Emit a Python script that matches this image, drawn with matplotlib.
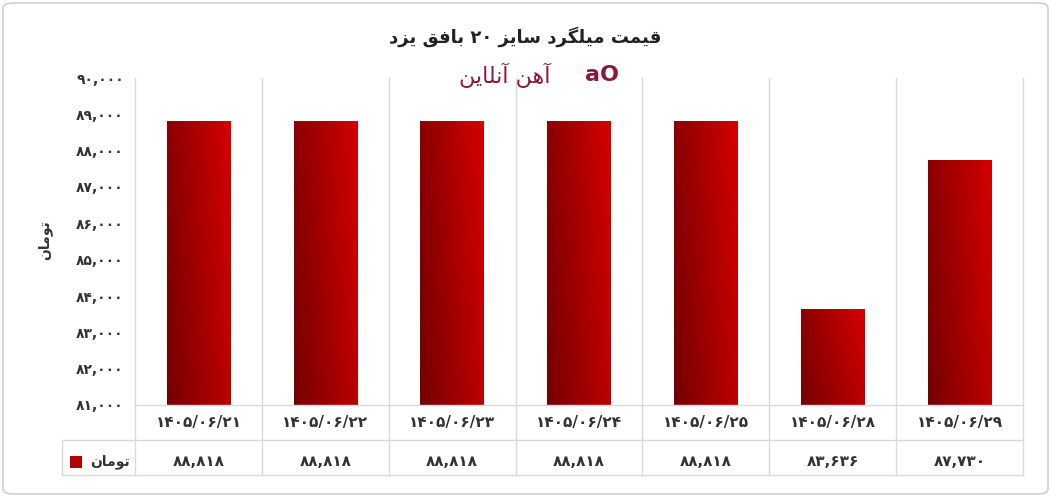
import matplotlib
matplotlib.use("Agg")
import matplotlib.pyplot as plt
import numpy as np
import re
from matplotlib.patches import FancyBboxPatch, Rectangle
from matplotlib.colors import LinearSegmentedColormap

plt.rcParams['font.family'] = ['DejaVu Sans', 'Noto Sans']

categories = ["۱۴۰۵/۰۶/۲۱", "۱۴۰۵/۰۶/۲۲", "۱۴۰۵/۰۶/۲۳", "۱۴۰۵/۰۶/۲۴",
              "۱۴۰۵/۰۶/۲۵", "۱۴۰۵/۰۶/۲۸", "۱۴۰۵/۰۶/۲۹"]
values = [88818, 88818, 88818, 88818, 88818, 83636, 87730]
yticks = [81000, 82000, 83000, 84000, 85000, 86000, 87000, 88000, 89000, 90000]
title = "قیمت میلگرد سایز ۲۰ بافق یزد"
series_name = "تومان"
logo = "آهن آنلاین"

FA = str.maketrans("0123456789", "۰۱۲۳۴۵۶۷۸۹")
def fa_num(v):
    return f"{v:,}".translate(FA)

FORMS = {
    'ا': (0xFE8D, 0xFE8E, None, None), 'آ': (0xFE81, 0xFE82, None, None),
    'ب': (0xFE8F, 0xFE90, 0xFE91, 0xFE92), 'ت': (0xFE95, 0xFE96, 0xFE97, 0xFE98),
    'د': (0xFEA9, 0xFEAA, None, None), 'ر': (0xFEAD, 0xFEAE, None, None),
    'ز': (0xFEAF, 0xFEB0, None, None), 'س': (0xFEB1, 0xFEB2, 0xFEB3, 0xFEB4),
    'ف': (0xFED1, 0xFED2, 0xFED3, 0xFED4), 'ق': (0xFED5, 0xFED6, 0xFED7, 0xFED8),
    'ل': (0xFEDD, 0xFEDE, 0xFEDF, 0xFEE0), 'م': (0xFEE1, 0xFEE2, 0xFEE3, 0xFEE4),
    'ن': (0xFEE5, 0xFEE6, 0xFEE7, 0xFEE8), 'ه': (0xFEE9, 0xFEEA, 0xFEEB, 0xFEEC),
    'و': (0xFEED, 0xFEEE, None, None), 'ی': (0xFBFC, 0xFBFD, 0xFBFE, 0xFBFF),
    'گ': (0xFB92, 0xFB93, 0xFB94, 0xFB95),
}
def dual(c):
    return c in FORMS and FORMS[c][2] is not None

def shape(s):
    out = []
    for i, c in enumerate(s):
        if c not in FORMS:
            out.append(c); continue
        prev = s[i-1] if i > 0 else ''
        nxt = s[i+1] if i+1 < len(s) else ''
        jp = dual(prev)
        jn = dual(c) and nxt in FORMS
        f = FORMS[c]
        if jp and jn: cp = f[3]
        elif jp: cp = f[1]
        elif jn: cp = f[2]
        else: cp = f[0]
        out.append(chr(cp))
    tokens = re.findall(r'[0-9۰-۹,/]+|.', ''.join(out))
    return ''.join(reversed(tokens))

W, H = 1051, 497
fig = plt.figure(figsize=(W/100, H/100), dpi=100)
fig.patches.append(FancyBboxPatch((3/W, 3/H), 1-6/W, 1-6/H, boxstyle="round,pad=0,rounding_size=0.01",
                                  transform=fig.transFigure, fc='white', ec='#c8c8c8', lw=1, zorder=-10))

L, R, T, B = 135, 1023, 78, 405
ax = fig.add_axes([L/W, 1-B/H, (R-L)/W, (B-T)/H])
ax.patch.set_alpha(0)
for s in ax.spines.values(): s.set_visible(False)
ax.set_xticks([])
ax.set_yticks(yticks)
ax.set_yticklabels([fa_num(v) for v in yticks], fontsize=10, fontweight='bold', color='#333333')
ax.tick_params(axis='y', length=0, pad=8)

cmap = LinearSegmentedColormap.from_list('g', ['#740000', '#d40000'])
bars = ax.bar(range(len(values)), [v-81000 for v in values], bottom=81000, width=0.5, color='none')
for b in bars:
    x0, y0, w, h = b.get_x(), b.get_y(), b.get_width(), b.get_height()
    gx, gy = np.meshgrid(np.linspace(0, 1, 64), np.linspace(1, 0, 64))
    g = 0.75*gx + 0.25*gy
    im = ax.imshow(g, extent=[x0, x0+w, y0, y0+h], cmap=cmap, aspect='auto', zorder=2)
    im.set_clip_path(b)
ax.set_xlim(-0.5, len(values)-0.5)
ax.set_ylim(81000, 90000)

lc = '#d9d9d9'
for i in range(len(values)+1):
    x = (L + (R-L)*i/len(values))/W
    fig.add_artist(plt.Line2D([x, x], [1-T/H, 1-475/H], color=lc, lw=1, zorder=0))
x62 = 62/W
for y in [B, 440, 475]:
    fig.add_artist(plt.Line2D([x62 if y != B else L/W, R/W], [1-y/H]*2, color=lc, lw=1))
fig.add_artist(plt.Line2D([x62, x62], [1-440/H, 1-475/H], color=lc, lw=1))

for i, (c, v) in enumerate(zip(categories, values)):
    xc = (L + (R-L)*(i+0.5)/len(values))/W
    fig.text(xc, 1-423/H, c, ha='center', va='center', fontsize=11, fontweight='bold', color='#333333')
    fig.text(xc, 1-462/H, fa_num(v), ha='center', va='center', fontsize=11, fontweight='bold', color='#333333')

fig.add_artist(Rectangle((70/W, 1-468/H), 12/W, 12/H, transform=fig.transFigure, fc='#b30000'))
fig.text(110/W, 1-462/H, shape(series_name), ha='center', va='center', fontsize=10, fontweight='bold', color='#333333')

fig.text(525/W, 1-37/H, shape(title), ha='center', va='center', fontsize=13, fontweight='bold', color='#222222')
fig.text(505/W, 1-75/H, shape(logo), ha='center', va='center', fontsize=16, color='#8b1a3a')
fig.text(602/W, 1-75/H, "aO", ha='center', va='center', fontsize=16, fontweight='bold', color='#8b1a3a')
fig.text(45/W, 1-240/H, shape(series_name), ha='center', va='center', rotation=90, fontsize=10, fontweight='bold', color='#333333')

fig.savefig("out.png", dpi=100)
